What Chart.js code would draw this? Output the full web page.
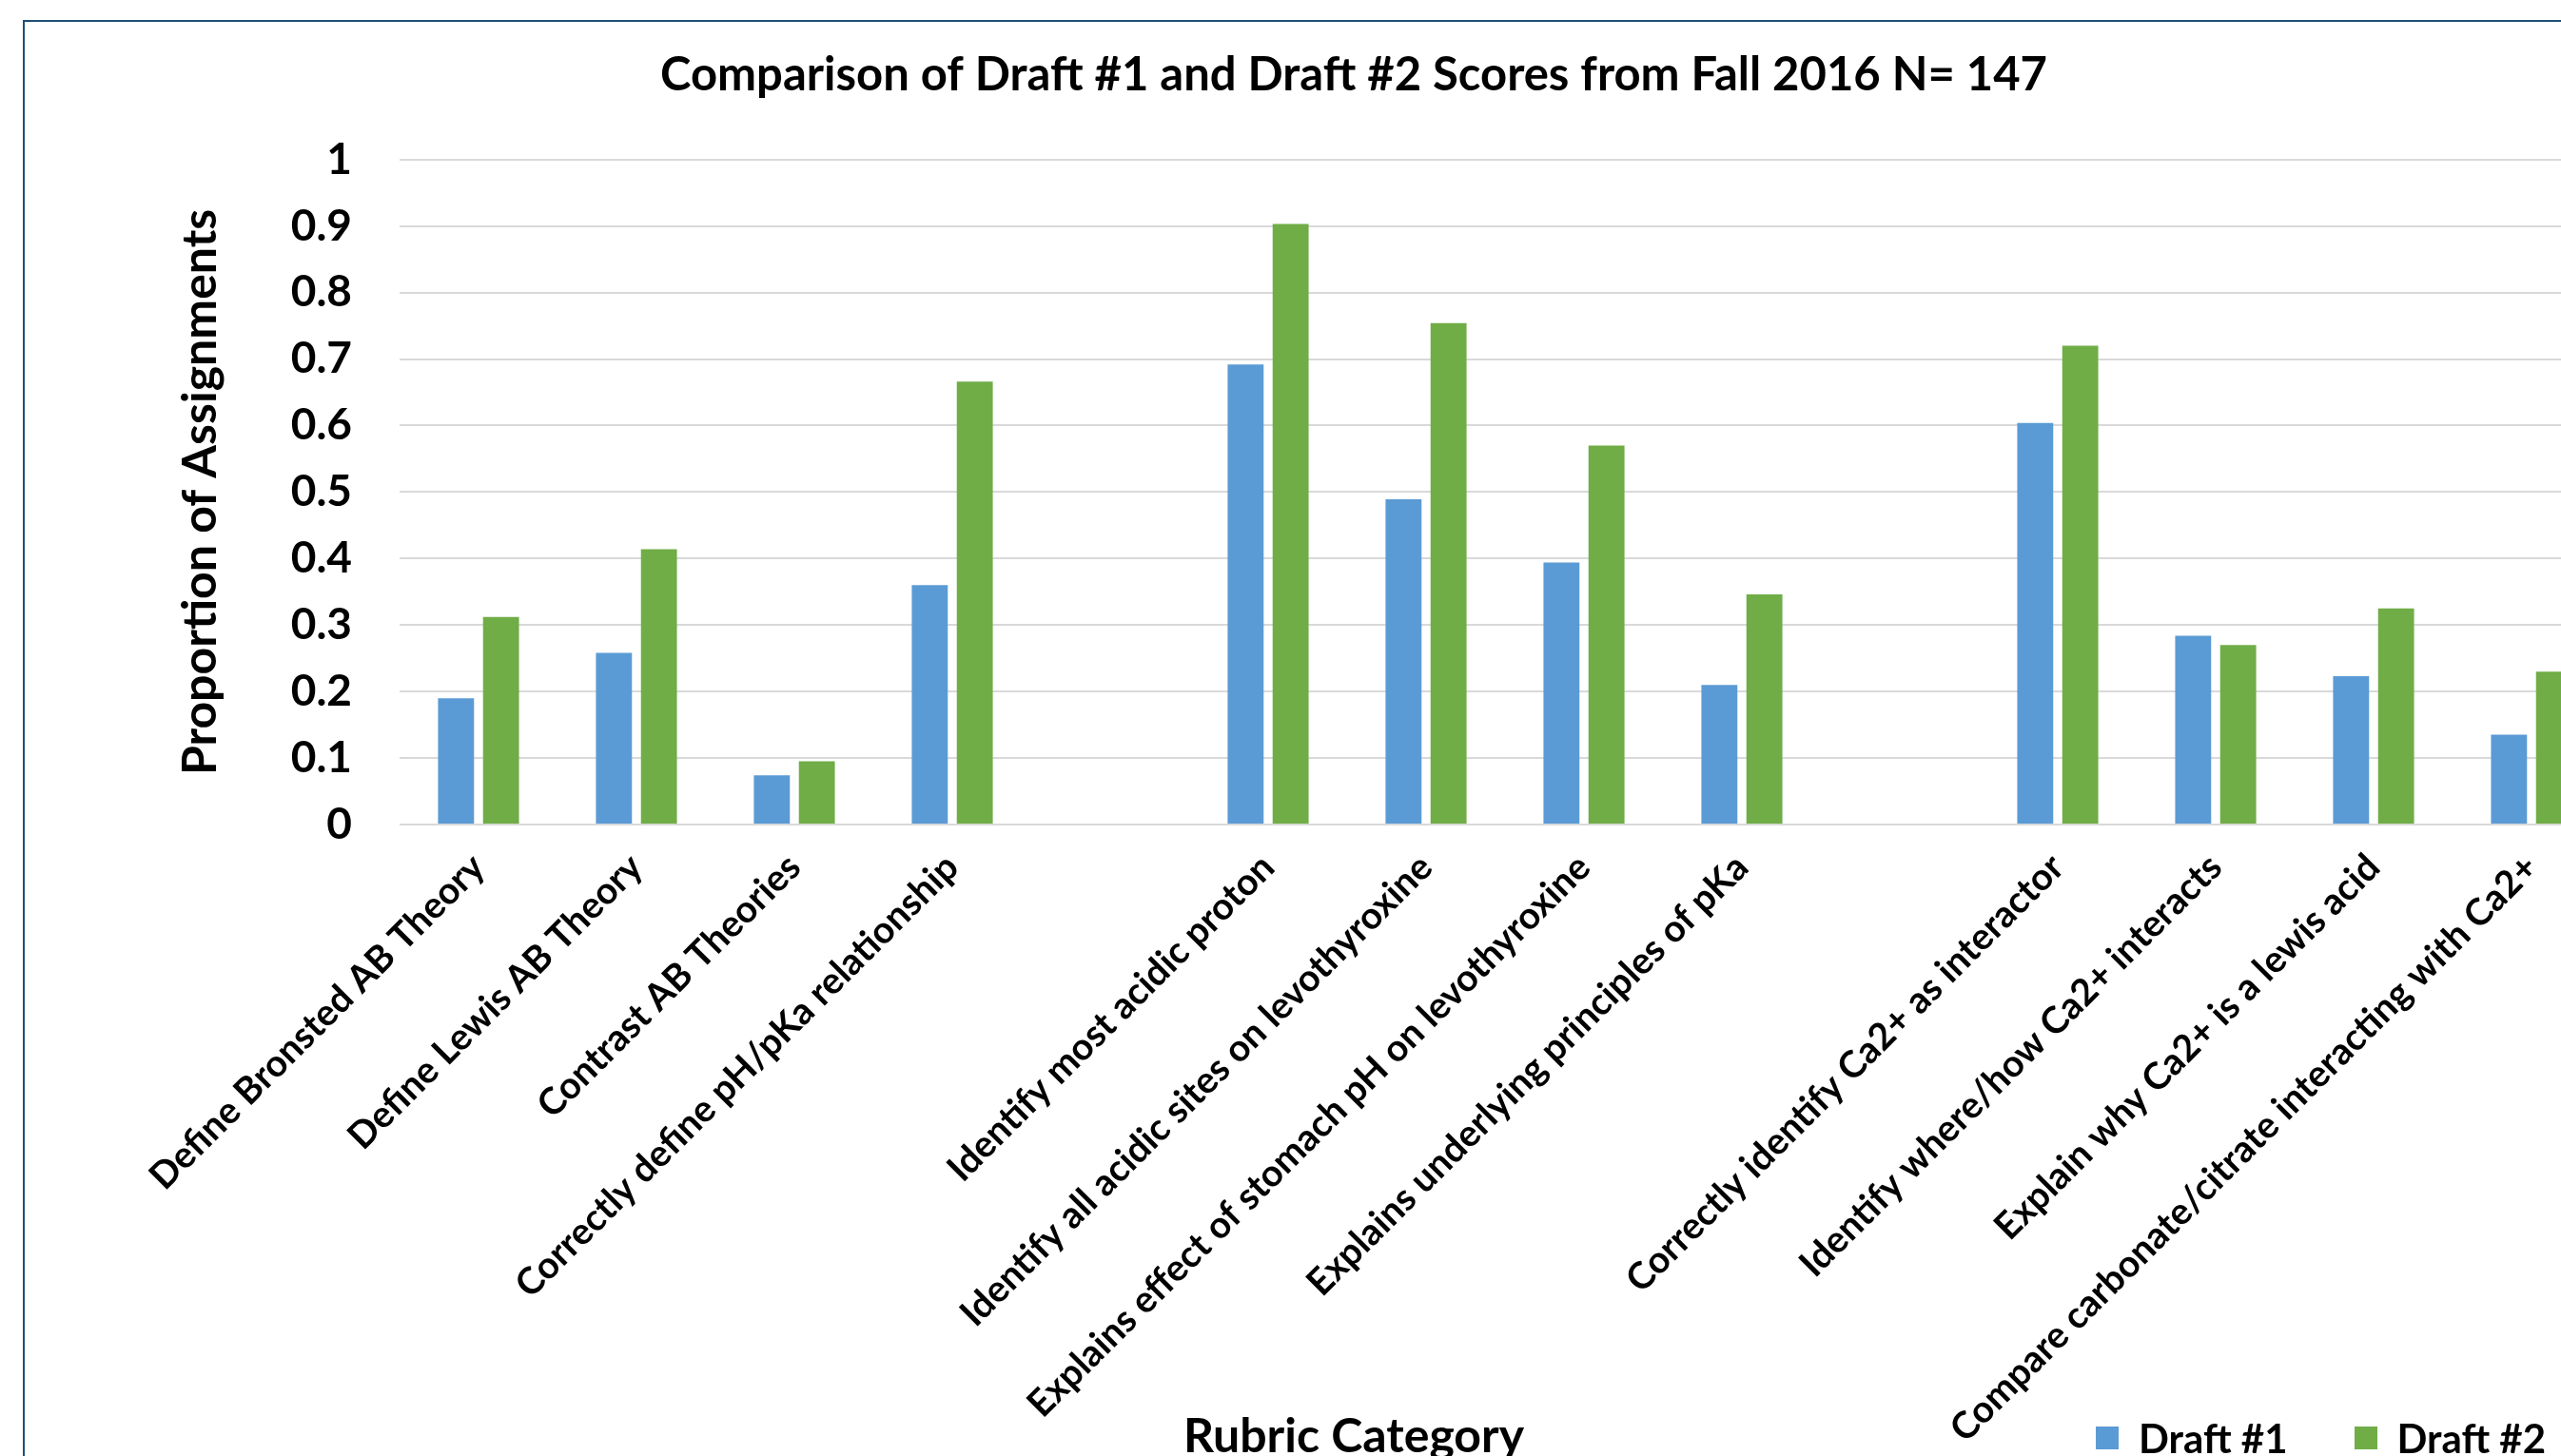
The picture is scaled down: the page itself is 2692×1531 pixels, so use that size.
<!DOCTYPE html>
<html lang="en">
<head>
<meta charset="UTF-8">
<title>Comparison of Draft #1 and Draft #2 Scores</title>
<script src="https://cdn.jsdelivr.net/npm/chart.js"></script>
<style>
    html, body {
        margin: 0;
        padding: 0;
        background: #fff;
        overflow: hidden;
    }
    /* the chart frame runs past the right and bottom edge of the window, like the original crop */
    .chart-box {
        position: absolute;
        left: 24px;
        top: 21px;
        width: 2795px;
        height: 1520px;
        border: 2px solid #1f4e79;
    }
    canvas {
        display: block;
    }
    /* legend sits on the same row as the x axis caption */
    .legend {
        position: absolute;
        left: 2203px;
        top: 1488px;
        height: 48px;
        display: flex;
        align-items: center;
        font-family: Lato, 'Open Sans', sans-serif;
        font-weight: bold;
        font-size: 42px;
        color: #000;
        white-space: nowrap;
    }
    .legend-item {
        display: flex;
        align-items: center;
    }
    .legend-item + .legend-item {
        margin-left: 70px;
    }
    .legend-box {
        width: 24px;
        height: 24px;
        margin-right: 21px;
    }
</style>
</head>
<body>

<div class="chart-box">
    <canvas id="scoreChart" width="2795" height="1520"></canvas>
</div>
<div class="legend" id="legend"></div>

<script>
    // rubric categories ('' = empty gap between question groups)
    const categories = [
        "Define Bronsted AB Theory",
        "Define Lewis AB Theory",
        "Contrast AB Theories",
        "Correctly define pH/pKa relationship",
        "",
        "Identify most acidic proton",
        "Identify all acidic sites on levothyroxine",
        "Explains effect of stomach pH on levothyroxine",
        "Explains underlying principles of pKa",
        "",
        "Correctly identify Ca2+ as interactor",
        "Identify where/how Ca2+ interacts",
        "Explain why Ca2+ is a lewis acid",
        "Compare carbonate/citrate interacting with Ca2+"
    ];

    const draft1 = [0.190, 0.258, 0.074, 0.360, null, 0.692, 0.489, 0.394, 0.210, null, 0.604, 0.284, 0.223, 0.135];
    const draft2 = [0.312, 0.414, 0.095, 0.666, null, 0.903, 0.754, 0.570, 0.346, null, 0.720, 0.270, 0.325, 0.230];

    const yTickLabels = ["0", "0.1", "0.2", "0.3", "0.4", "0.5", "0.6", "0.7", "0.8", "0.9", "1"];

    Chart.defaults.font.family = "Lato, 'Open Sans', sans-serif";
    Chart.defaults.font.weight = "bold";
    Chart.defaults.color = "#000";

    const ctx = document.getElementById("scoreChart").getContext("2d");

    const chart = new Chart(ctx, {
        type: "bar",
        data: {
            labels: categories,
            datasets: [
                {
                    label: "Draft #1",
                    data: draft1,
                    backgroundColor: "#5b9bd5",
                    borderWidth: 0
                },
                {
                    label: "Draft #2",
                    data: draft2,
                    backgroundColor: "#70ad47",
                    borderWidth: 0
                }
            ]
        },
        options: {
            responsive: false,
            animation: false,
            categoryPercentage: 0.57,
            barPercentage: 0.8,
            layout: {
                padding: { left: 76, right: 77, top: 0, bottom: 0 }
            },
            scales: {
                x: {
                    grid: { display: false },
                    border: { display: false },
                    ticks: {
                        autoSkip: false,
                        minRotation: 45,
                        maxRotation: 45,
                        padding: 14,
                        font: { size: 39, weight: "bold" }
                    },
                    // axis box reaches the bottom of the canvas so the long labels are not clipped
                    afterFit: (scale) => { scale.height = 676; }
                },
                y: {
                    min: 0,
                    max: 1,
                    border: { display: false },
                    grid: {
                        color: "#d9d9d9",
                        lineWidth: 2,
                        drawTicks: false
                    },
                    ticks: {
                        stepSize: 0.1,
                        padding: 50,
                        font: { size: 46, weight: "bold" },
                        callback: (value, index) => yTickLabels[index]
                    },
                    title: {
                        display: true,
                        text: "Proportion of Assignments",
                        font: { size: 50, weight: "bold" },
                        padding: { top: 79, bottom: 0 }
                    },
                    afterFit: (scale) => { scale.width = 318; }
                }
            },
            plugins: {
                title: {
                    display: true,
                    text: "Comparison of Draft #1 and Draft #2 Scores from Fall 2016 N= 147",
                    font: { size: 49, weight: "bold" },
                    color: "#000",
                    padding: { top: 27, bottom: 59 }
                },
                // x axis caption at the very bottom (zero-height box)
                subtitle: {
                    display: true,
                    position: "bottom",
                    text: "Rubric Category",
                    font: { size: 50, weight: "bold" },
                    color: "#000",
                    padding: { top: -62, bottom: 2 }
                },
                legend: { display: false },
                tooltip: { enabled: false }
            }
        }
    });

    // simple legend built from the datasets
    const legendEl = document.getElementById("legend");
    chart.data.datasets.forEach(ds => {
        const item = document.createElement("div");
        item.className = "legend-item";
        item.innerHTML = `<span class="legend-box" style="background:${ds.backgroundColor}"></span><span>${ds.label}</span>`;
        legendEl.appendChild(item);
    });
</script>

</body>
</html>
